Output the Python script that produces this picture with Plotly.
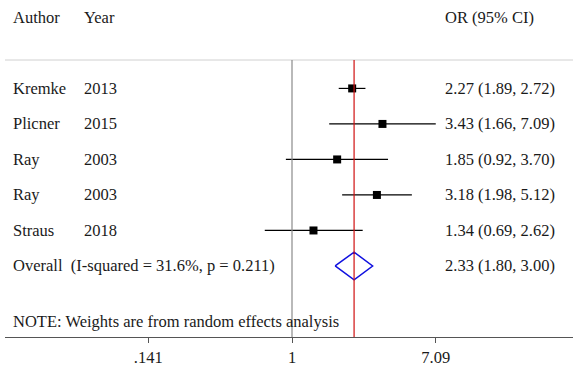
import plotly.graph_objects as go
import math

authors = ["Kremke", "Plicner", "Ray", "Ray", "Straus"]
years = ["2013", "2015", "2003", "2003", "2018"]
or_est = [2.27, 3.43, 1.85, 3.18, 1.34]
or_lo = [1.89, 1.66, 0.92, 1.98, 0.69]
or_hi = [2.72, 7.09, 3.70, 5.12, 2.62]
overall = [2.33, 1.80, 3.00]
overall_label = "Overall  (I-squared = 31.6%, p = 0.211)"
note = "NOTE: Weights are from random effects analysis"
tick_vals = [0.141, 1, 7.09]
tick_text = [".141", "1", "7.09"]

W, H = 573, 367
ML, MR, MT, MB = 5, 0, 0, 28
FONT = "Liberation Serif"
FS = 16.5
TXT = "#1a1a1a"

rows = list(range(1, len(authors) + 1))
ov_row = len(authors) + 1

fig = go.Figure()

# study CIs + boxes
fig.add_trace(go.Scatter(
    x=or_est, y=rows, mode="markers",
    marker=dict(symbol="square", size=8, color="black"),
    error_x=dict(type="data", symmetric=False,
                 array=[h - e for h, e in zip(or_hi, or_est)],
                 arrayminus=[e - l for e, l in zip(or_est, or_lo)],
                 color="black", thickness=1.2, width=0),
    showlegend=False, hoverinfo="skip"))

# overall diamond
dh = 0.39
fig.add_trace(go.Scatter(
    x=[overall[1], overall[0], overall[2], overall[0], overall[1]],
    y=[ov_row, ov_row - dh, ov_row, ov_row + dh, ov_row],
    mode="lines", line=dict(color="#1010e0", width=1.5),
    showlegend=False, hoverinfo="skip"))

ytop = 0.2
ybot = ov_row + 2
shapes = [
    dict(type="line", xref="paper", yref="y", x0=0, x1=1, y0=ytop, y1=ytop,
         line=dict(color="#d0d0d0", width=1)),
    dict(type="line", xref="x", yref="y", x0=1, x1=1, y0=ytop, y1=ybot,
         line=dict(color="#8a8a8a", width=1.2)),
    dict(type="line", xref="x", yref="y", x0=overall[0], x1=overall[0], y0=ytop, y1=ybot,
         line=dict(color="#d01010", width=1.2)),
]

pw = W - ML - MR
def px(p):
    return (p - ML) / pw

ann = []
def add(text, xp, y):
    ann.append(dict(text=text, xref="paper", yref="y", x=px(xp), y=y,
                    xanchor="left", yanchor="middle", showarrow=False,
                    font=dict(family=FONT, size=FS, color=TXT)))

add("Author", 11, -1)
add("Year", 82, -1)
add("OR (95% CI)", 443, -1)
for r, a, yv, e, l, h in zip(rows, authors, years, or_est, or_lo, or_hi):
    add(a, 11, r)
    add(yv, 82, r)
    add(f"{e:.2f} ({l:.2f}, {h:.2f})", 443, r)
add(overall_label, 11, ov_row)
add(f"{overall[0]:.2f} ({overall[1]:.2f}, {overall[2]:.2f})", 443, ov_row)
add(note, 11, ov_row + 1.55)

x0log = math.log10(1) - (292 - ML) / 169.0
x1log = math.log10(1) + (W - MR - 292) / 169.0

fig.update_layout(
    width=W, height=H,
    margin=dict(l=ML, r=MR, t=MT, b=MB),
    paper_bgcolor="white", plot_bgcolor="white",
    shapes=shapes, annotations=ann,
    xaxis=dict(type="log", range=[x0log, x1log], tickvals=tick_vals, ticktext=tick_text,
               showgrid=False, zeroline=False, showline=True, linecolor="#555",
               linewidth=1.2, ticks="outside", ticklen=5, tickcolor="#555",
               tickfont=dict(family=FONT, size=FS, color=TXT)),
    yaxis=dict(range=[ybot, -1.49], visible=False, showgrid=False, zeroline=False),
)

fig.write_html("out.html", config={"displayModeBar": False},
               post_script="document.body.style.margin='0';document.body.style.overflow='hidden';")
